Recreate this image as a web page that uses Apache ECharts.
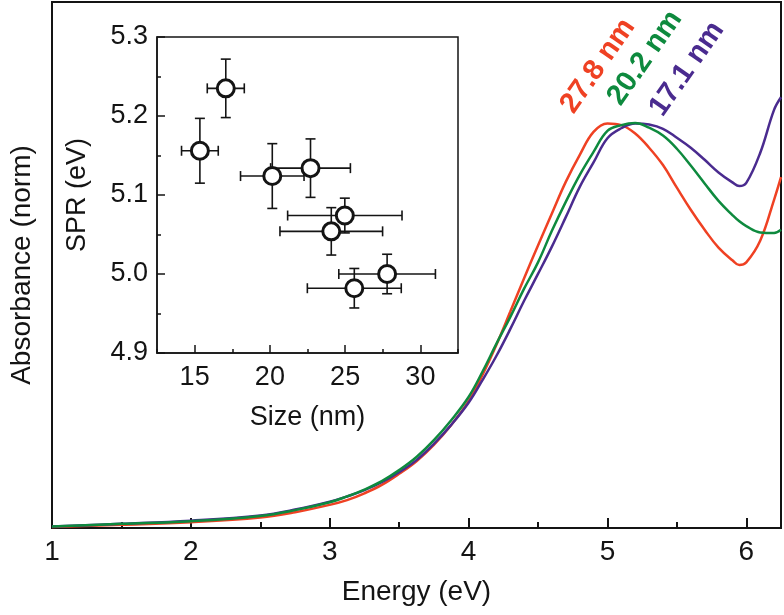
<!DOCTYPE html>
<html>
<head>
<meta charset="utf-8">
<script src="https://cdn.jsdelivr.net/npm/echarts@6/dist/echarts.min.js"></script>
<style>
html, body { margin: 0; padding: 0; background: #fff; }
#chart { width: 784px; height: 615px; }
</style>
</head>
<body>
<div id="chart"></div>
<script>
// 主图: 能量 (eV)
const energy = [1.0, 1.5, 2.0, 2.5, 2.75, 3.0, 3.125, 3.25, 3.375, 3.5, 3.625, 3.75, 3.875, 4.0, 4.1, 4.2, 4.3, 4.4, 4.5, 4.6, 4.7, 4.8, 4.9, 5.0, 5.1, 5.2, 5.3, 5.4, 5.5, 5.6, 5.7, 5.8, 5.9, 5.95, 6.0, 6.1, 6.2, 6.25];
// 归一化吸收 - 27.8 nm
const absRed = [0.002, 0.006, 0.011, 0.020, 0.030, 0.044, 0.053, 0.066, 0.082, 0.103, 0.127, 0.158, 0.196, 0.241, 0.291, 0.348, 0.411, 0.475, 0.537, 0.598, 0.658, 0.709, 0.753, 0.769, 0.766, 0.750, 0.723, 0.690, 0.647, 0.605, 0.567, 0.533, 0.509, 0.500, 0.505, 0.546, 0.624, 0.667];
// 20.2 nm
const absGreen = [0.003, 0.008, 0.013, 0.023, 0.034, 0.049, 0.060, 0.073, 0.089, 0.110, 0.135, 0.167, 0.205, 0.249, 0.297, 0.350, 0.401, 0.455, 0.505, 0.565, 0.620, 0.671, 0.715, 0.755, 0.766, 0.770, 0.761, 0.746, 0.721, 0.689, 0.655, 0.622, 0.595, 0.583, 0.574, 0.562, 0.561, 0.567];
// 17.1 nm
const absPurple = [0.003, 0.008, 0.014, 0.024, 0.035, 0.050, 0.060, 0.072, 0.087, 0.106, 0.129, 0.160, 0.196, 0.238, 0.281, 0.327, 0.378, 0.432, 0.483, 0.535, 0.591, 0.648, 0.695, 0.741, 0.760, 0.769, 0.767, 0.759, 0.742, 0.723, 0.700, 0.676, 0.657, 0.650, 0.656, 0.713, 0.795, 0.819];
const curveLabels = ['27.8 nm', '20.2 nm', '17.1 nm'];

// 插图: 尺寸 vs SPR
const sizes = [17.07, 15.35, 20.16, 22.7, 24.98, 24.08, 27.79, 25.61];
const sizeErr = [1.23, 1.22, 2.11, 2.65, 3.8, 3.41, 3.21, 3.12];
const spr = [5.235, 5.156, 5.124, 5.134, 5.074, 5.054, 5.0, 4.982];
const sprErr = [0.037, 0.041, 0.041, 0.037, 0.022, 0.030, 0.025, 0.025];
const sizeTicks = [15, 20, 25, 30];

const FONT = 'Liberation Sans, Arial, sans-serif';
const INK = '#141414';
const RED = '#ef4123';
const GREEN = '#0e8a3e';
const PURPLE = '#4a2b8f';

const chart = echarts.init(document.getElementById('chart'));

function pairs(ys) {
    return energy.map((e, i) => [e, ys[i]]);
}

// 误差棒
function renderErrorBar(params, api) {
    const x = api.value(0), y = api.value(1), ex = api.value(2), ey = api.value(3);
    const l = api.coord([x - ex, y]);
    const r = api.coord([x + ex, y]);
    const t = api.coord([x, y + ey]);
    const b = api.coord([x, y - ey]);
    const cap = 5;
    const style = { stroke: INK, lineWidth: 1.6 };
    const seg = (x1, y1, x2, y2) => ({ type: 'line', shape: { x1, y1, x2, y2 }, style });
    return {
        type: 'group',
        children: [
            seg(l[0], l[1], r[0], r[1]),
            seg(l[0], l[1] - cap, l[0], l[1] + cap),
            seg(r[0], r[1] - cap, r[0], r[1] + cap),
            seg(t[0], t[1], b[0], b[1]),
            seg(t[0] - cap, t[1], t[0] + cap, t[1]),
            seg(b[0] - cap, b[1], b[0] + cap, b[1])
        ]
    };
}

function curve(name, ys, color) {
    return {
        name: name, type: 'line', xAxisIndex: 0, yAxisIndex: 0,
        data: pairs(ys), showSymbol: false, smooth: 0.4,
        lineStyle: { color: color, width: 2.5 }
    };
}

const hidden = { show: false };

const option = {
    animation: false,
    backgroundColor: '#fff',
    textStyle: { fontFamily: FONT },
    grid: [
        { left: 45, right: 3, top: 2, bottom: 87, show: true, borderColor: INK, borderWidth: 2 },
        { left: 157, top: 37, width: 301, height: 316, show: true, backgroundColor: '#fff', borderColor: INK, borderWidth: 1.5 }
    ],
    xAxis: [
        {
            gridIndex: 0, type: 'value', min: 1, max: 6.25, interval: 1, position: 'bottom',
            axisLine: { lineStyle: { color: INK, width: 2 } },
            axisTick: { inside: true, length: 10, lineStyle: { color: INK, width: 2 } },
            axisLabel: { fontSize: 28, color: INK, margin: 10, fontFamily: FONT, showMaxLabel: false },
            splitLine: hidden,
            name: 'Energy (eV)', nameLocation: 'middle', nameGap: 50,
            nameTextStyle: { fontSize: 28, color: INK, fontFamily: FONT }
        },
        {
            gridIndex: 0, type: 'value', min: 1, max: 6.25, interval: 0.5, position: 'bottom',
            axisLine: hidden, axisLabel: hidden, splitLine: hidden,
            axisTick: { inside: true, length: 6, lineStyle: { color: INK, width: 2 } }
        },
        {
            gridIndex: 1, type: 'value', min: 12.5, max: 32.5, position: 'bottom',
            axisLine: { lineStyle: { color: INK, width: 1.5 } },
            axisTick: { inside: true, length: 8, customValues: sizeTicks, lineStyle: { color: INK, width: 1.5 } },
            axisLabel: { fontSize: 27, color: INK, margin: 11, fontFamily: FONT, customValues: sizeTicks },
            splitLine: hidden,
            name: 'Size (nm)', nameLocation: 'middle', nameGap: 51,
            nameTextStyle: { fontSize: 27, color: INK, fontFamily: FONT }
        },
        {
            gridIndex: 1, type: 'value', min: 12.5, max: 32.5, interval: 2.5, position: 'bottom',
            axisLine: hidden, axisLabel: hidden, splitLine: hidden,
            axisTick: { inside: true, length: 4, lineStyle: { color: INK, width: 1.5 } }
        }
    ],
    yAxis: [
        {
            gridIndex: 0, type: 'value', min: 0, max: 1,
            axisLine: { show: true, lineStyle: { color: INK, width: 2 } },
            axisTick: hidden, axisLabel: hidden, splitLine: hidden,
            name: 'Absorbance (norm)', nameLocation: 'middle', nameGap: 16,
            nameTextStyle: { fontSize: 28, color: INK, fontFamily: FONT }
        },
        {
            gridIndex: 1, type: 'value', min: 4.9, max: 5.3, interval: 0.1,
            axisLine: { show: true, lineStyle: { color: INK, width: 1.5 } },
            axisTick: { inside: true, length: 8, lineStyle: { color: INK, width: 1.5 } },
            minorTick: { show: true, splitNumber: 2, length: 4, lineStyle: { color: INK, width: 1.5 } },
            axisLabel: { fontSize: 27, color: INK, margin: 9, fontFamily: FONT, formatter: v => v.toFixed(1) },
            splitLine: hidden, minorSplitLine: hidden,
            name: 'SPR (eV)', nameLocation: 'middle', nameGap: 66,
            nameTextStyle: { fontSize: 27, color: INK, fontFamily: FONT }
        }
    ],
    graphic: [
        { type: 'text', x: 598, y: 66, rotation: 55 * Math.PI / 180, style: { text: curveLabels[0], fill: RED, font: 'bold 29px ' + FONT, align: 'center', verticalAlign: 'middle' } },
        { type: 'text', x: 645, y: 58, rotation: 55 * Math.PI / 180, style: { text: curveLabels[1], fill: GREEN, font: 'bold 29px ' + FONT, align: 'center', verticalAlign: 'middle' } },
        { type: 'text', x: 687, y: 69, rotation: 55 * Math.PI / 180, style: { text: curveLabels[2], fill: PURPLE, font: 'bold 29px ' + FONT, align: 'center', verticalAlign: 'middle' } }
    ],
    series: [
        curve(curveLabels[0], absRed, RED),
        curve(curveLabels[2], absPurple, PURPLE),
        curve(curveLabels[1], absGreen, GREEN),
        {
            type: 'custom', xAxisIndex: 2, yAxisIndex: 1,
            data: sizes.map((s, i) => [s, spr[i], sizeErr[i], sprErr[i]]),
            encode: { x: 0, y: 1 },
            renderItem: renderErrorBar, z: 3
        },
        {
            type: 'scatter', xAxisIndex: 2, yAxisIndex: 1,
            data: sizes.map((s, i) => [s, spr[i]]),
            symbol: 'circle', symbolSize: 17,
            itemStyle: { color: '#fff', borderColor: INK, borderWidth: 3, opacity: 1 },
            z: 4
        }
    ]
};

chart.setOption(option);
</script>
</body>
</html>
